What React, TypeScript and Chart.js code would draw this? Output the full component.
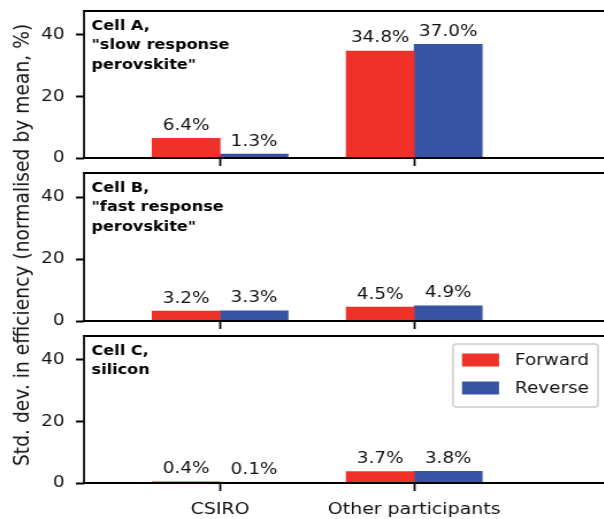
import React, { useEffect, useRef } from 'react';
import { Chart, registerables } from 'chart.js';

Chart.register(...registerables);

// ---------- data ----------
const categories = ['CSIRO', 'Other participants'];
const categoryPositions = [0, 1];
const seriesNames = ['Forward', 'Reverse'];
const cellAForward = [6.4, 34.8];
const cellAReverse = [1.3, 37.0];
const cellBForward = [3.2, 4.5];
const cellBReverse = [3.3, 4.9];
const cellCForward = [0.4, 3.7];
const cellCReverse = [0.1, 3.8];
const yTicks = [0, 20, 40];
const titleA = ['Cell A,', '"slow response', 'perovskite"'];
const titleB = ['Cell B,', '"fast response', 'perovskite"'];
const titleC = ['Cell C,', 'silicon'];
const yLabel = 'Std. dev. in efficiency (normalised by mean, %)';

const panelData = [
  { forward: cellAForward, reverse: cellAReverse, title: titleA },
  { forward: cellBForward, reverse: cellBReverse, title: titleB },
  { forward: cellCForward, reverse: cellCReverse, title: titleC },
];

// ---------- layout / style ----------
const SX = 1.15; // horizontal stretch of the reference image
const FONT = 'DejaVu Sans';
const TEXT = '#111111';
const RED = '#ee3229';
const BLUE = '#3853a4';
const FIG_W = 604;
const FIG_H = 519;
const CANVAS_W_PX = 700; // target px (extends past the right edge)
const AREA_LEFT = 84;
const AREA_RIGHT = 680;
const X0_PX = 220;
const X_UNIT_PX = 194;
const X_MIN = (AREA_LEFT - X0_PX) / X_UNIT_PX;
const X_MAX = (AREA_RIGHT - X0_PX) / X_UNIT_PX;
const Y_MAX = 47.8;
const BAR_W = 68;

const panels = [
  { top: 0, height: 167, areaTop: 11, areaBottom: 158 },
  { top: 167, height: 164, areaTop: 173, areaBottom: 321 },
  { top: 331, height: 188, areaTop: 336, areaBottom: 483 },
];

const framePlugin = {
  id: 'frame',
  afterDatasetsDraw(chart: any) {
    const { ctx, chartArea: a } = chart;
    const lw = 2 / SX;
    ctx.save();
    ctx.fillStyle = '#000';
    const w = a.right - a.left + lw;
    ctx.fillRect(a.left - lw / 2, a.top - 1, w, 2);
    ctx.fillRect(a.left - lw / 2, a.bottom - 1, w, 2);
    ctx.fillRect(a.left - lw / 2, a.top - 1, lw, a.bottom - a.top + 2);
    ctx.restore();
  },
};

const barLabelPlugin = {
  id: 'barLabels',
  afterDatasetsDraw(chart: any) {
    const { ctx } = chart;
    ctx.save();
    ctx.font = `16px "${FONT}"`;
    ctx.fillStyle = TEXT;
    ctx.textAlign = 'center';
    ctx.textBaseline = 'alphabetic';
    chart.data.datasets.forEach((ds: any, i: number) => {
      const meta = chart.getDatasetMeta(i);
      meta.data.forEach((bar: any, j: number) => {
        const v = ds.data[j].y;
        ctx.fillText(`${v.toFixed(1)}%`, bar.x, bar.y - 8.5);
      });
    });
    ctx.restore();
  },
};

const titlePlugin = {
  id: 'panelTitle',
  afterDraw(chart: any, _args: any, opts: any) {
    const { ctx, chartArea: a } = chart;
    const lines: string[] = opts.lines || [];
    ctx.save();
    ctx.font = `bold 14px "${FONT}"`;
    ctx.fillStyle = '#000';
    ctx.textAlign = 'left';
    ctx.textBaseline = 'alphabetic';
    lines.forEach((l, i) => {
      ctx.fillText(l, a.left + 7.5 / SX, a.top + 19 + i * 19.3);
    });
    ctx.restore();
  },
};

const boxLegendPlugin = {
  id: 'boxLegend',
  afterDraw(chart: any, _args: any, opts: any) {
    if (!opts.show) return;
    const { ctx, chartArea: a } = chart;
    const bx = a.left + 369 / SX;
    const by = a.top + 8;
    const bw = 145 / SX;
    const bh = 63;
    ctx.save();
    ctx.beginPath();
    ctx.roundRect(bx, by, bw, bh, 3);
    ctx.fillStyle = 'rgba(255,255,255,0.8)';
    ctx.fill();
    ctx.strokeStyle = '#cccccc';
    ctx.lineWidth = 1.5;
    ctx.stroke();
    chart.data.datasets.forEach((ds: any, i: number) => {
      const cy = a.top + 24 + i * 28;
      ctx.fillStyle = ds.backgroundColor;
      ctx.fillRect(a.left + 378 / SX, cy - 6.5, 37 / SX, 13);
      ctx.fillStyle = TEXT;
      ctx.font = `16px "${FONT}"`;
      ctx.textAlign = 'left';
      ctx.textBaseline = 'middle';
      ctx.fillText(ds.label, a.left + 431 / SX, cy + 1);
    });
    ctx.restore();
  },
};

function makeConfig(idx: number): any {
  const p = panels[idx];
  const d = panelData[idx];
  const padTop = p.areaTop - p.top;
  const axisH = p.top + p.height - p.areaBottom;
  const padRight = (CANVAS_W_PX - AREA_RIGHT) / SX;
  const isLast = idx === panels.length - 1;
  return {
    type: 'bar',
    data: {
      datasets: [
        {
          label: seriesNames[0],
          data: categoryPositions.map((x, i) => ({ x, y: d.forward[i] })),
          backgroundColor: RED,
          barThickness: BAR_W / SX,
          borderWidth: 0,
        },
        {
          label: seriesNames[1],
          data: categoryPositions.map((x, i) => ({ x, y: d.reverse[i] })),
          backgroundColor: BLUE,
          barThickness: BAR_W / SX,
          borderWidth: 0,
        },
      ],
    },
    plugins: [framePlugin, barLabelPlugin, titlePlugin, boxLegendPlugin],
    options: {
      responsive: false,
      maintainAspectRatio: false,
      animation: false,
      devicePixelRatio: 1,
      layout: { padding: { top: padTop, right: padRight, left: 0, bottom: 0 } },
      plugins: {
        legend: { display: false },
        tooltip: { enabled: false },
        panelTitle: { lines: d.title },
        boxLegend: { show: isLast },
      },
      scales: {
        x: {
          type: 'linear',
          min: X_MIN,
          max: X_MAX,
          offset: false,
          afterBuildTicks: (s: any) => {
            s.ticks = categoryPositions.map((v) => ({ value: v }));
          },
          afterFit: (s: any) => {
            s.height = axisH;
            s.paddingLeft = 0;
            s.paddingRight = 0;
          },
          grid: {
            display: true,
            offset: false,
            drawOnChartArea: false,
            drawTicks: true,
            tickLength: 8,
            tickWidth: 2 / SX,
            tickColor: '#000',
          },
          border: { display: false },
          ticks: {
            display: isLast,
            autoSkip: false,
            maxRotation: 0,
            padding: 9,
            color: TEXT,
            font: { family: FONT, size: 16.5 },
            callback: (v: number) => {
              const k = categoryPositions.indexOf(v);
              return k >= 0 ? categories[k] : '';
            },
          },
        },
        y: {
          type: 'linear',
          min: 0,
          max: Y_MAX,
          afterBuildTicks: (s: any) => {
            s.ticks = yTicks.map((v) => ({ value: v }));
          },
          afterFit: (s: any) => {
            s.width = AREA_LEFT / SX;
            s.paddingTop = 0;
            s.paddingBottom = 0;
          },
          grid: {
            display: true,
            drawOnChartArea: false,
            drawTicks: true,
            tickLength: 8 / SX,
            tickWidth: 2,
            tickColor: '#000',
          },
          border: { display: false },
          ticks: {
            padding: 11.5 / SX,
            color: TEXT,
            font: { family: FONT, size: 16 },
          },
        },
      },
    },
  };
}

function Panel({ idx }: { idx: number }) {
  const ref = useRef<HTMLCanvasElement | null>(null);
  useEffect(() => {
    const chart = new Chart(ref.current as HTMLCanvasElement, makeConfig(idx));
    return () => chart.destroy();
  }, [idx]);
  const p = panels[idx];
  const w = Math.round(CANVAS_W_PX / SX);
  return (
    <canvas
      ref={ref}
      width={w}
      height={p.height}
      style={{ position: 'absolute', left: 0, top: p.top, width: w, height: p.height }}
    />
  );
}

export default function App() {
  return (
    <div
      style={{
        position: 'absolute',
        left: 0,
        top: 0,
        width: FIG_W,
        height: FIG_H,
        overflow: 'hidden',
        background: '#fff',
      }}
    >
      <div
        style={{
          position: 'absolute',
          left: 0,
          top: 0,
          width: CANVAS_W_PX / SX,
          height: FIG_H,
          transform: `scaleX(${SX})`,
          transformOrigin: '0 0',
        }}
      >
        {panels.map((_, i) => (
          <Panel key={i} idx={i} />
        ))}
        <div
          style={{
            position: 'absolute',
            left: 22 / SX,
            top: 245,
            transform: 'translate(-50%, -50%) rotate(-90deg)',
            whiteSpace: 'nowrap',
            fontFamily: FONT,
            fontSize: 18.7,
            color: TEXT,
            lineHeight: 1,
          }}
        >
          {yLabel}
        </div>
      </div>
    </div>
  );
}
